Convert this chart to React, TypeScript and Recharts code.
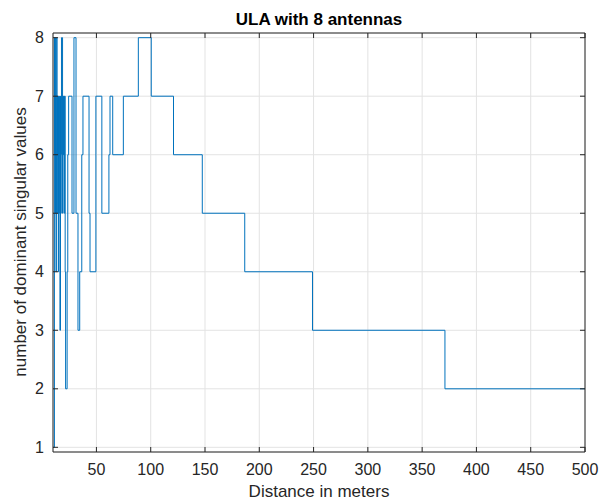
import { CartesianGrid, Label, Line, LineChart, XAxis, YAxis } from "recharts";

// distance (m) where the count changes, and the count from there on
const distance = [
  10.0, 11.3, 11.6, 11.9, 12.2, 12.5, 12.8, 13.1, 13.4, 13.7, 14.0, 14.3,
  14.6, 14.9, 15.2, 15.5, 15.8, 16.1, 16.4, 16.9, 17.2, 17.5, 17.8, 18.8,
  19.2, 19.6, 20.0, 20.4, 20.8, 21.2, 21.6, 23.0, 23.6, 24.4, 27.5, 29.3,
  31.2, 33.0, 34.6, 36.5, 37.6, 43.2, 44.1, 49.5, 55.0, 61.5, 62.5, 65.0,
  74.8, 88.6, 100.5, 121.0, 147.5, 186.6, 249.0, 371.0, 500,
];
const dominant = [
  1, 8, 6, 8, 5, 7, 4, 6, 8, 5, 7, 6,
  7, 4, 7, 5, 6, 7, 3, 7, 5, 6, 8, 5,
  7, 6, 7, 5, 7, 4, 2, 4, 6, 7, 5, 8,
  5, 3, 4, 6, 7, 5, 4, 7, 5, 6, 7, 6,
  7, 8, 7, 6, 5, 4, 3, 2, 2,
];

const xTicks = [50, 100, 150, 200, 250, 300, 350, 400, 450, 500];
const yTicks = [1, 2, 3, 4, 5, 6, 7, 8];

const data = distance.map((d, i) => ({ x: d, y: dominant[i] }));

const font = "Arial, 'Liberation Sans', Helvetica, sans-serif";
const axisColor = "#262626";
const noLabel = () => <g />;

export default function App() {
  return (
    <div
      style={{
        position: "absolute",
        left: 0,
        top: 0,
        width: 613,
        height: 503,
        background: "#fff",
      }}
    >
      <div
        style={{
          position: "absolute",
          left: 0,
          top: 10,
          width: 638,
          textAlign: "center",
          fontFamily: font,
          fontWeight: "bold",
          fontSize: 17,
          lineHeight: "20px",
          color: "#000",
        }}
      >
        ULA with 8 antennas
      </div>
      <LineChart
        width={613}
        height={503}
        data={data}
        margin={{ top: 32, right: 27, bottom: 0, left: 0 }}
      >
        <CartesianGrid stroke="#e3e3e3" />
        <XAxis
          type="number"
          dataKey="x"
          domain={[10, 500]}
          ticks={xTicks}
          allowDataOverflow
          height={51}
          tickSize={-5}
          tickMargin={17}
          stroke={axisColor}
          tick={{ fill: axisColor, fontSize: 16, fontFamily: font }}
        >
          <Label
            content={() => (
              <text
                x={319}
                y={497}
                textAnchor="middle"
                fontSize={17}
                fontFamily={font}
                fill={axisColor}
              >
                Distance in meters
              </text>
            )}
          />
        </XAxis>
        <XAxis
          xAxisId="top"
          orientation="top"
          type="number"
          dataKey="x"
          domain={[10, 500]}
          ticks={xTicks}
          allowDataOverflow
          height={1}
          tickSize={-5}
          stroke={axisColor}
          tick={noLabel}
        />
        <YAxis
          type="number"
          domain={[0.92, 8.08]}
          ticks={yTicks}
          allowDataOverflow
          width={53}
          tickSize={-5}
          tickMargin={14}
          stroke={axisColor}
          tick={{ fill: axisColor, fontSize: 16, fontFamily: font }}
        >
          <Label
            content={() => (
              <text
                x={20}
                y={242}
                dy="0.35em"
                textAnchor="middle"
                transform="rotate(-90, 20, 242)"
                fontSize={17}
                fontFamily={font}
                fill={axisColor}
              >
                number of dominant singular values
              </text>
            )}
          />
        </YAxis>
        <YAxis
          yAxisId="right"
          orientation="right"
          type="number"
          dataKey="y"
          domain={[0.92, 8.08]}
          ticks={yTicks}
          allowDataOverflow
          width={1}
          tickSize={-5}
          stroke={axisColor}
          tick={noLabel}
        />
        <Line
          type="stepAfter"
          dataKey="y"
          stroke="#0072BD"
          strokeWidth={1}
          dot={false}
          isAnimationActive={false}
        />
      </LineChart>
    </div>
  );
}
